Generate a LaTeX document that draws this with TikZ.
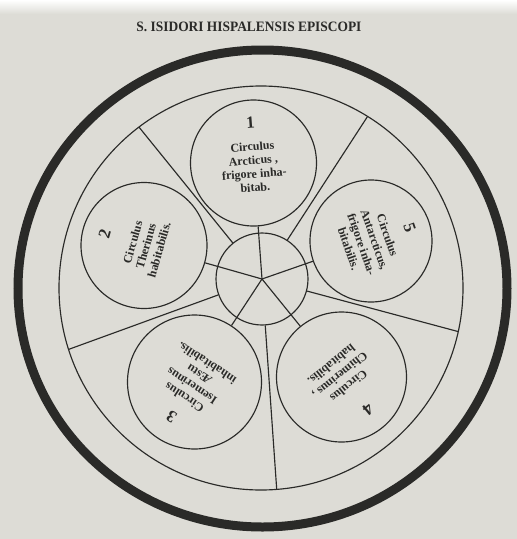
\documentclass[tikz,border=0pt]{standalone}
\usepackage{graphicx}
\usepackage{fontspec}
\setmainfont{Liberation Serif}
\usetikzlibrary{calc}
\definecolor{paper}{RGB}{221,220,214}
\definecolor{ink}{RGB}{42,42,40}
\tikzset{
  thinline/.style={draw=ink, line width=1.15pt},
  zone/.style={circle, draw=ink, line width=1.15pt, inner sep=0pt, minimum size=#1},
  num/.style={font=\fontsize{17}{17}\selectfont\bfseries, text=ink, transform shape, inner sep=0pt},
  lbl/.style={font=\fontsize{12}{13.7}\selectfont\bfseries, text=ink, align=center,
              transform shape, inner sep=0pt},
}
\begin{document}
\begin{tikzpicture}[x=1pt,y=1pt]
\useasboundingbox (0,0) rectangle (517,-539);
\fill[paper] (0,0) rectangle (517,-539);
\shade[top color=white, bottom color=paper] (0,0) rectangle (517,-14);
% title
\node[text=ink, inner sep=0pt] (title) at (249,-27)
  {\resizebox{225pt}{9.5pt}{\bfseries S. ISIDORI HISPALENSIS EPISCOPI}};
% rings
\coordinate (Q) at (262.5,-288.5);
\draw[ink, line width=9pt] (Q) ellipse [x radius=244.5pt, y radius=238.5pt];
\coordinate (R) at (261,-288);
\draw[thinline] (R) circle [radius=202pt];
% hub and zones
\coordinate (O) at (262,-279);
\node[zone=92pt]  (hub) at (O) {};
\node[zone=126pt] (c1) at (253.5,-163) {};
\node[zone=122pt] (c5) at (371,-241) {};
\node[zone=130pt] (c4) at (341.5,-377) {};
\node[zone=134pt] (c3) at (194.5,-382) {};
\node[zone=126pt] (c2) at (144,-245.5) {};
% inner spokes
\foreach \c in {c1,c2,c3,c4,c5} \draw[thinline] (O) -- (\c);
% outer spokes
\begin{scope}
  \clip (R) circle [radius=202pt];
  \foreach \a in {129,57,-15,-86,-160}
    \draw[thinline] (hub.\a) -- ($(O)+(\a:300)$);
\end{scope}
% labels
\begin{scope}[shift={(c1)}, rotate=4.2]
  \node[num] (n1) at (0,41) {1};
  \node[lbl] (t1) at (0,-4) {Circulus\\Arcticus ,\\frigore inha-\\bitab.};
\end{scope}
\begin{scope}[shift={(c2)}, rotate=74.1]
  \node[num] (n2) at (0,41) {2};
  \node[lbl] (t2) at (0,-2) {Circulus\\Therinus\\habitabilis.};
\end{scope}
\begin{scope}[shift={(c3)}, rotate=146.8]
  \node[num] (n3) at (0,42) {3};
  \node[lbl] (t3) at (0,-2) {Circulus\\Isemerinus\\Æstu\\inhabitabilis.};
\end{scope}
\begin{scope}[shift={(c4)}, rotate=-140.9]
  \node[num] (n4) at (0,42) {4};
  \node[lbl] (t4) at (0,-2) {Circulus\\Chimerinus ,\\habitabilis.};
\end{scope}
\begin{scope}[shift={(c5)}, rotate=-70.8]
  \node[num] (n5) at (0,41) {5};
  \node[lbl] (t5) at (0,-3) {Circulus\\Antarcticus,\\frigore inha-\\bitabilis.};
\end{scope}
\end{tikzpicture}
\end{document}
